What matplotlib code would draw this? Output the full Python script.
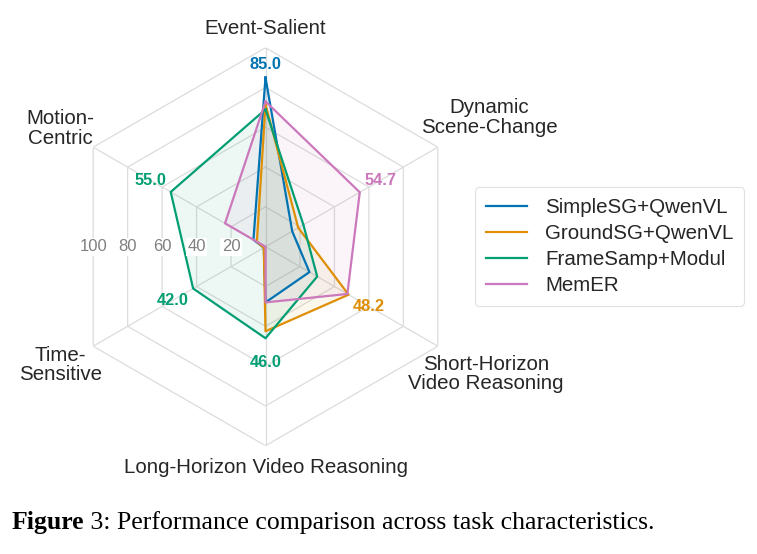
import numpy as np
import matplotlib
matplotlib.use("Agg")
import matplotlib.pyplot as plt

categories = ["Event-Salient", "Dynamic\nScene-Change", "Short-Horizon\nVideo Reasoning",
              "Long-Horizon Video Reasoning", "Time-\nSensitive", "Motion-\nCentric"]
methods = ["SimpleSG+QwenVL", "GroundSG+QwenVL", "FrameSamp+Modul", "MemER"]
simple_sg = [85.0, 15.5, 25.5, 28.0, 1.0, 7.0]
ground_sg = [71.5, 19.0, 48.2, 42.5, 1.0, 5.0]
frame_samp = [69.0, 22.0, 30.0, 46.0, 42.0, 55.0]
memer = [73.0, 54.7, 47.5, 28.0, 0.0, 23.5]
ring_values = [20, 40, 60, 80, 100]
ring_labels = ["20", "40", "60", "80", "100"]

series = [simple_sg, ground_sg, frame_samp, memer]
colors = ["#0173b2", "#de8f05", "#029e73", "#cc78bc"]
label_r = [105, 130, 128, 106, 119, 119]
label_va = ["bottom", "center", "center", "top", "center", "center"]

plt.rcParams['font.family'] = ['Liberation Sans', 'DejaVu Sans']

W, H = 757, 554
fig = plt.figure(figsize=(W / 100, H / 100), dpi=100)
cx, cy, R = 265.5, 246.7, 199
ax = fig.add_axes([(cx - R) / W, 1 - (cy + R) / H, 2 * R / W, 2 * R / H], projection='polar')
ax.set_theta_offset(np.pi / 2)
ax.set_theta_direction(-1)
ax.set_ylim(0, 100)
ax.grid(False)
ax.spines['polar'].set_visible(False)
ax.set_xticks([])
ax.set_yticks([])
ax.patch.set_alpha(0)

n = len(categories)
angles = np.arange(n) * 2 * np.pi / n
closed = np.append(angles, angles[0])

grid_c = "#dcdcdc"
for rv in ring_values:
    ax.plot(closed, [rv] * (n + 1), color=grid_c, lw=0.9, zorder=1)
for a in angles:
    ax.plot([a, a], [0, 100], color=grid_c, lw=0.9, zorder=1)

for name, vals, c in zip(methods, series, colors):
    v = np.append(vals, vals[0])
    ax.fill(closed, v, color=c, alpha=0.07, zorder=2, lw=0)
    ax.plot(closed, v, color=c, lw=1.6, label=name, zorder=3)

# ring labels along the left side
for rv, lab in zip(ring_values, ring_labels):
    ax.text(3 * np.pi / 2, rv * np.cos(np.pi / 6), lab, ha='center', va='center',
            fontsize=12, color="#808080", zorder=6,
            bbox=dict(facecolor='white', edgecolor='none', pad=1.0))

# category labels
for a, lab, r, va in zip(angles, categories, label_r, label_va):
    ax.text(a, r, lab, ha='center', va=va, fontsize=14.8, color="#262626",
            linespacing=1.05, multialignment='center')

# max value annotations
data = np.array(series)
for i, a in enumerate(angles):
    j = int(np.argmax(data[:, i]))
    v = data[j, i]
    ax.text(a, min(v + 12, 91.5), f"{v:.1f}", ha='center', va='center',
            fontsize=11.8, fontweight='bold', color=colors[j], zorder=6)

leg = fig.legend(loc='center left', bbox_to_anchor=(465 / W, 1 - 246.5 / H),
                 fontsize=14.8, frameon=True, handlelength=2.0, handletextpad=0.9,
                 labelspacing=0.35, borderpad=0.5, fancybox=True)
leg.get_frame().set_edgecolor("#d9d9d9")
leg.get_frame().set_linewidth(0.8)
for t in leg.get_texts():
    t.set_color("#262626")

t1 = fig.text(12 / W, 1 - 529 / H, "Figure", fontsize=18.5, fontweight='bold',
              family=['Liberation Serif', 'DejaVu Serif'], va='baseline')
plt.annotate(" 3: Performance comparison across task characteristics.",
             xy=(1, 0), xycoords=t1, va='bottom', ha='left', fontsize=18.5,
             family=['Liberation Serif', 'DejaVu Serif'], annotation_clip=False)

fig.savefig("out.png", dpi=100)
